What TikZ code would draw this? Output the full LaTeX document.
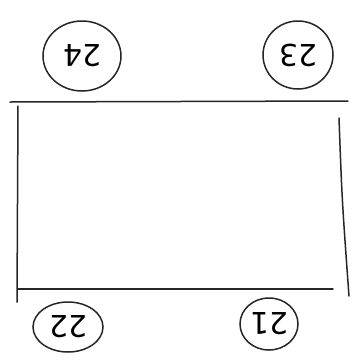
\documentclass[tikz,border=0pt]{standalone}
\usetikzlibrary{shapes.geometric}
\usepackage{fontspec}
\setmainfont{DejaVu Sans}
\begin{document}
\begin{tikzpicture}[x=1pt,y=-1pt,
  pen/.style={draw=black!85,line width=1.5pt,line cap=round,line join=round},
  tag/.style={ellipse,draw=black!85,line width=1.5pt,inner sep=0pt,font=\fontsize{30}{32}\selectfont,rotate=180}]
\useasboundingbox[fill=white] (0,0) rectangle (359,360);
\coordinate (tl) at (10,102);
\coordinate (tr) at (348,101);
\coordinate (lt) at (18,106);
\coordinate (lb) at (17,302);
\coordinate (rt) at (339,118);
\coordinate (rb) at (349,296);
\coordinate (bl) at (18,289);
\coordinate (br) at (333,289);
\draw[pen] (tl) -- (tr);
\draw[pen] (lt) -- (lb);
\draw[pen] (rt) .. controls (342,200) .. (rb);
\draw[pen] (bl) -- (br);
\node[tag,minimum width=78pt,minimum height=70pt] (n24) at (82,56) {24};
\node[tag,minimum width=70pt,minimum height=68pt] (n23) at (298,55) {23};
\node[tag,minimum width=70pt,minimum height=50pt] (n22) at (68,327) {22};
\node[tag,minimum width=58pt,minimum height=52pt] (n21) at (269,324) {21};
\end{tikzpicture}
\end{document}
